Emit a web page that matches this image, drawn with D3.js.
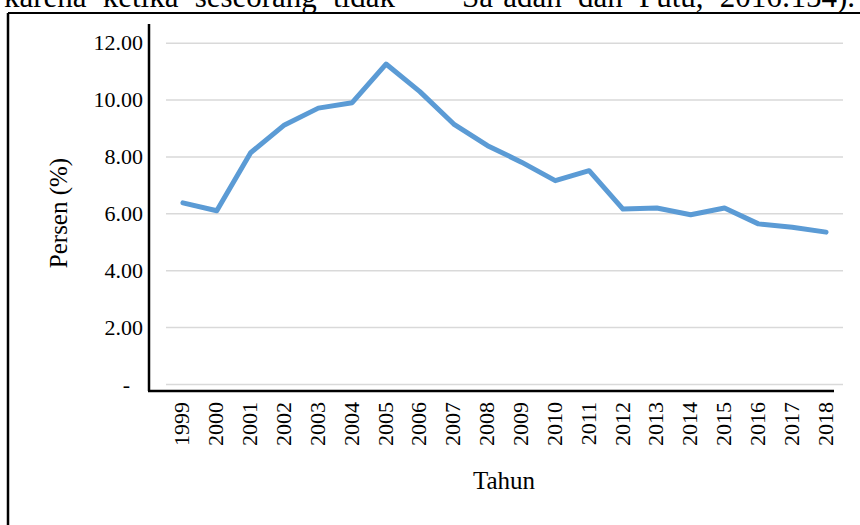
<!DOCTYPE html>
<html>
<head>
<meta charset="utf-8">
<script src="https://cdn.jsdelivr.net/npm/d3@7"></script>
<style>
  body { margin: 0; background: #fff; }
  svg { display: block; font-family: "Liberation Serif", "Times New Roman", serif; }
</style>
</head>
<body>
<script>
// data
var years = ["1999","2000","2001","2002","2003","2004","2005","2006","2007","2008",
             "2009","2010","2011","2012","2013","2014","2015","2016","2017","2018"];
var persen = [6.37, 6.09, 8.13, 9.11, 9.70, 9.89, 11.25, 10.28, 9.14, 8.38,
              7.80, 7.15, 7.50, 6.15, 6.19, 5.95, 6.19, 5.63, 5.51, 5.34];
var yTicks = [0, 2, 4, 6, 8, 10, 12];

var width = 860, height = 525;

var svg = d3.select("body").append("svg")
    .attr("width", width)
    .attr("height", height);

svg.append("rect").attr("width", width).attr("height", height).attr("fill", "#fff");

// scales
var x = d3.scalePoint()
    .domain(years)
    .range([166, 843])
    .padding(0.5);

var y = d3.scaleLinear()
    .domain([0, 12])
    .range([384, 42.7]);

// body text cut off above the figure (justified, so stretch the word gaps)
var topText = svg.append("g").attr("font-size", "31px").attr("fill", "#000");
function justify(sel, target) {
    var natural = sel.node().getComputedTextLength();
    var gaps = sel.text().split(" ").length - 1;
    sel.style("word-spacing", Math.max(0, (target - natural) / gaps) + "px");
}
justify(topText.append("text")
    .attr("x", 4).attr("y", 7)
    .text("karena ketika seseorang tidak"), 391);
justify(topText.append("text")
    .attr("x", 462).attr("y", 7)
    .text("Sa\u2019adah dan Putu, 2016:154)."), 393);

// frame around the figure
svg.append("line")
    .attr("x1", 8).attr("y1", 13).attr("x2", width).attr("y2", 13)
    .attr("stroke", "#000").attr("stroke-width", 2);
svg.append("line")
    .attr("x1", 8).attr("y1", 13).attr("x2", 8).attr("y2", height)
    .attr("stroke", "#000").attr("stroke-width", 2.5);

// gridlines
var grid = svg.append("g")
    .attr("transform", "translate(166,0)")
    .call(d3.axisRight(y).tickValues(yTicks).tickSize(843 - 166).tickFormat(""));
grid.select(".domain").remove();
grid.selectAll(".tick line").attr("stroke", "#d9d9d9").attr("stroke-width", 1.5);

// y tick labels
var yAxis = svg.append("g")
    .attr("transform", "translate(149,0)")
    .call(d3.axisLeft(y).tickValues(yTicks).tickSize(0).tickPadding(6)
        .tickFormat(function(d) { return d === 0 ? "-" : d3.format(".2f")(d); }));
yAxis.select(".domain").remove();
yAxis.selectAll("text")
    .attr("font-family", "Liberation Serif, serif")
    .attr("font-size", "22px")
    .attr("fill", "#000")
    .attr("dx", function(d) { return d === 0 ? -13 : 0; });

// black axis lines
svg.append("line")
    .attr("x1", 149).attr("y1", 24).attr("x2", 149).attr("y2", 391)
    .attr("stroke", "#000").attr("stroke-width", 2.5);
svg.append("line")
    .attr("x1", 148).attr("y1", 391).attr("x2", 834).attr("y2", 391)
    .attr("stroke", "#000").attr("stroke-width", 2.5);

// x tick labels
var xAxis = svg.append("g")
    .attr("transform", "translate(0,391)")
    .call(d3.axisBottom(x).tickSize(0).tickPadding(0));
xAxis.select(".domain").remove();
xAxis.selectAll("text")
    .attr("font-family", "Liberation Serif, serif")
    .attr("font-size", "22px")
    .attr("fill", "#000")
    .attr("text-anchor", "end")
    .attr("transform", "translate(-1,11) rotate(-90)")
    .attr("x", 0)
    .attr("y", 0)
    .attr("dy", "0.32em");

// the line
var line = d3.line()
    .x(function(d, i) { return x(years[i]); })
    .y(function(d) { return y(d); });

svg.append("path")
    .datum(persen)
    .attr("d", line)
    .attr("fill", "none")
    .attr("stroke", "#5b9bd5")
    .attr("stroke-width", 5)
    .attr("stroke-linejoin", "round")
    .attr("stroke-linecap", "round");

// axis titles
svg.append("text")
    .attr("transform", "translate(67,213) rotate(-90)")
    .attr("text-anchor", "middle")
    .attr("font-size", "25px")
    .attr("fill", "#000")
    .text("Persen (%)");

svg.append("text")
    .attr("x", 504).attr("y", 489)
    .attr("text-anchor", "middle")
    .attr("font-size", "25px")
    .attr("fill", "#000")
    .text("Tahun");
</script>
</body>
</html>
